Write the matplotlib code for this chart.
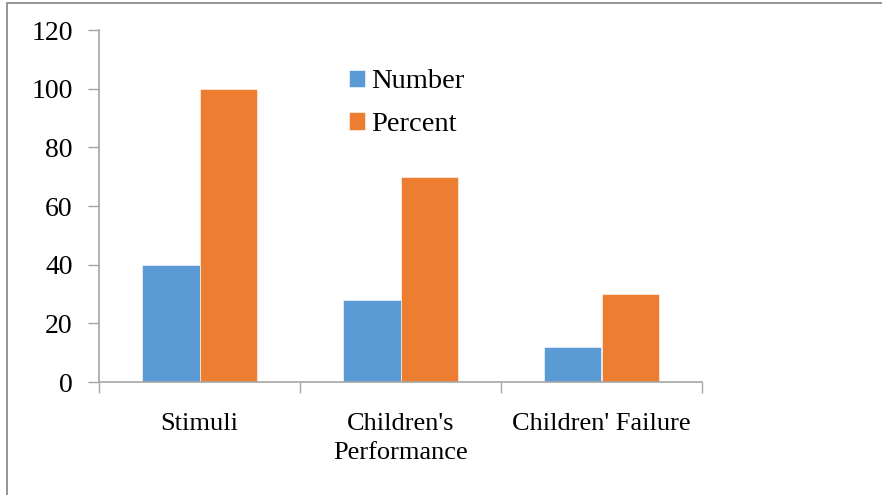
import matplotlib
matplotlib.use("Agg")
import matplotlib.pyplot as plt
from matplotlib.patches import Rectangle
import numpy as np

categories = ["Stimuli", "Children's\nPerformance", "Children' Failure"]
number_vals = [40, 28, 12]
percent_vals = [100, 70, 30]
series_names = ["Number", "Percent"]
y_ticks = [0, 20, 40, 60, 80, 100, 120]

plt.rcParams["font.family"] = ["Liberation Serif", "DejaVu Serif"]

fig = plt.figure(figsize=(8.82, 4.95), dpi=100)
ax = fig.add_axes([99 / 882, 1 - 382 / 495, (702 - 99) / 882, (382 - 30) / 495])

# frame around the chart area
fig.patches.append(Rectangle((7 / 882, -0.1), 1.2, (1 - 2.5 / 495) + 0.1,
                             transform=fig.transFigure, fill=False,
                             edgecolor="#8c8c8c", linewidth=1.3))

x = np.arange(len(categories))
w = 0.285
grid_c = "#a6a6a6"
fs = 19
ax.bar(x - w / 2, number_vals, w, color="#5B9BD5", label=series_names[0],
       edgecolor="white", linewidth=0.4)
ax.bar(x + w / 2, percent_vals, w, color="#ED7D31", label=series_names[1],
       edgecolor="white", linewidth=0.4)

ax.set_xlim(-0.5, len(categories) - 0.5)
ax.set_ylim(0, 120)
ax.set_yticks(y_ticks)
ax.set_xticks(x)
ax.set_xticklabels(categories, fontsize=fs, linespacing=1.45)
ax.set_xticks(np.arange(-0.5, len(categories)), minor=True)
ax.tick_params(axis="x", which="major", length=0, pad=22)
ax.tick_params(axis="x", which="minor", length=8, color=grid_c, width=1, direction="out")
ax.tick_params(axis="y", labelsize=20, length=8, color=grid_c, width=1, pad=11)

for side in ("top", "right"):
    ax.spines[side].set_visible(False)
for side in ("left", "bottom"):
    ax.spines[side].set_color(grid_c)
    ax.spines[side].set_linewidth(1.2)

ax.legend(loc="upper left", bbox_to_anchor=(0.414, 0.888), frameon=False,
          fontsize=20.5, handlelength=0.56, handleheight=0.56, borderpad=0,
          handletextpad=0.22, labelspacing=0.62, borderaxespad=0)

fig.savefig("out.png", dpi=100)
